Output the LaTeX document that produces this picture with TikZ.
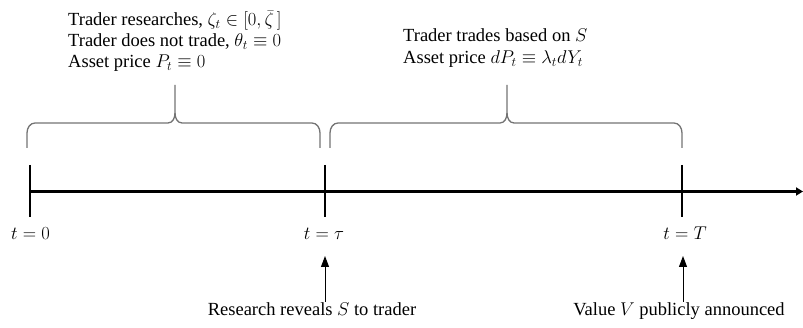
\RequirePackage{fix-cm}
\documentclass[tikz,border=0pt]{standalone}
\usepackage{fontspec}
\setmainfont{Liberation Serif}
\usetikzlibrary{arrows.meta}
\definecolor{bracegray}{RGB}{115,115,115}
\begin{document}
\begin{tikzpicture}[x=1pt,y=-1pt,
  txt/.style={font=\fontsize{18.5}{21}\selectfont, inner sep=0pt, anchor=base},
  ln/.style={txt, anchor=base west},
  brc/.style={draw=bracegray, line width=1.3pt},
  tickmark/.style={line width=2.6pt},
  axis/.style={line width=2.6pt, -{Triangle[length=7pt,width=8pt]}},
  up/.style={line width=1pt, -{Triangle[length=11pt,width=8pt]}}]
\useasboundingbox (0,0) rectangle (803,328);
% timeline
\coordinate (o) at (30,191.5);
\coordinate (end) at (803,191.5);
\draw[axis] (o) -- (end);
\coordinate (k0a) at (30,165); \coordinate (k0b) at (30,217);
\coordinate (k1a) at (325,165); \coordinate (k1b) at (325,217);
\coordinate (k2a) at (682,165); \coordinate (k2b) at (682,217);
\draw[tickmark] (k0a) -- (k0b);
\draw[tickmark] (k1a) -- (k1b);
\draw[tickmark] (k2a) -- (k2b);
% labels
\node[txt] (l0) at (30.5,240) {$t=0$};
\node[txt] (ltau) at (324,240) {$t=\tau$};
\node[txt] (lT) at (685,240) {$t=T$};
% bottom texts and arrows
\node[txt] (res) at (312,316) {Research reveals $S$ to trader};
\node[txt] (val) at (679,316) {Value $V$ publicly announced};
\coordinate (r1) at (325,256);
\coordinate (r2) at (683,256);
\coordinate (s1) at (325,302);
\coordinate (s2) at (683,302);
\draw[up] (s1) -- (r1);
\draw[up] (s2) -- (r2);
% braces
\draw[brc] (27,148) -- (27,133) to[out=90,in=180] (35,123) -- (168,123) to[out=0,in=-90] (175,113) -- (175,85);
\draw[brc] (320,148) -- (320,133) to[out=90,in=0] (312,123) -- (182,123) to[out=180,in=-90] (175,113);
\draw[brc] (330,148) -- (330,133) to[out=90,in=180] (338,123) -- (500,123) to[out=0,in=-90] (507,113) -- (507,85);
\draw[brc] (682,148) -- (682,133) to[out=90,in=0] (674,123) -- (514,123) to[out=180,in=-90] (507,113);
% top texts
\node[ln] (b1a) at (68,26) {Trader researches, $\zeta_t\in[0,\bar{\zeta}\,]$};
\node[ln] (b1b) at (68,47) {Trader does not trade, $\theta_t\equiv0$};
\node[ln] (b1c) at (68,68) {Asset price $P_t\equiv0$};
\node[ln] (b2a) at (403,42) {Trader trades based on $S$};
\node[ln] (b2b) at (403,64) {Asset price $dP_t\equiv\lambda_t dY_t$};
\end{tikzpicture}
\end{document}
